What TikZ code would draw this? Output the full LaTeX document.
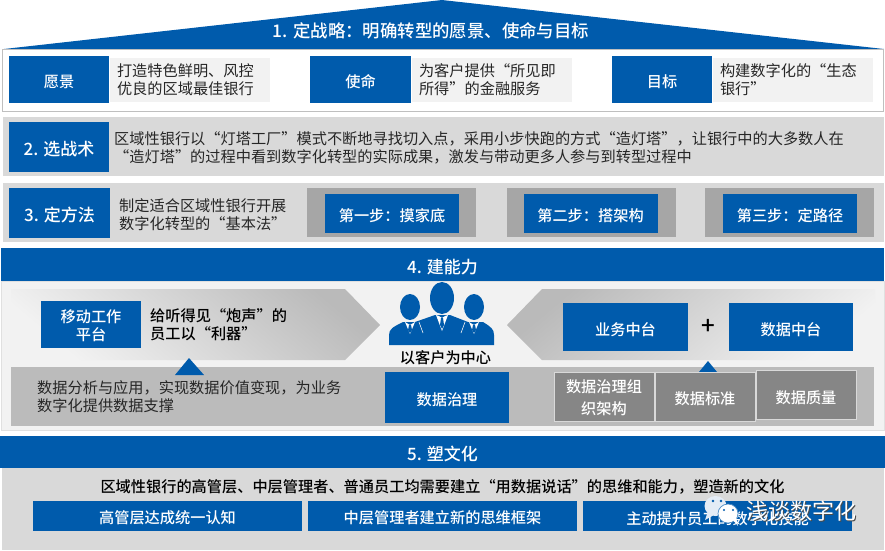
\documentclass[tikz,border=0pt]{standalone}
\usepackage{fontspec}
\setmainfont{Noto Sans CJK SC}[BoldFont={Noto Sans CJK SC Medium}]
\usetikzlibrary{shapes.geometric}
\definecolor{bankblue}{HTML}{005BAC}
\definecolor{rowgray}{HTML}{D9D9D9}
\definecolor{softgray}{HTML}{F2F2F2}
\definecolor{trackgray}{HTML}{A6A6A6}
\definecolor{bargray}{HTML}{BBBBBB}
\definecolor{cellgray}{HTML}{868686}
\definecolor{inkgray}{HTML}{262626}
\definecolor{bubblegray}{HTML}{E4ECF6}
\newcommand{\bodyfont}{\fontsize{15.2}{18}\selectfont}
\newcommand{\headfont}{\fontsize{17}{20}\selectfont}

\begin{document}
\begin{tikzpicture}[
    x=1pt, y=-1pt,
    bluebox/.style={fill=bankblue, text=white, inner sep=0pt, align=center,
                    font=\bodyfont\bfseries,
                    execute at begin node={\rule{0pt}{17.4pt}}},
    headbox/.style={bluebox, font=\headfont\bfseries,
                    execute at begin node={\rule{0pt}{19pt}}},
    softbox/.style={fill=softgray, draw=white, text=inkgray, text width=145pt,
                    inner xsep=8pt, inner ysep=0pt, minimum height=45pt,
                    align=left, font=\bodyfont},
    rowbox/.style={fill=rowgray, draw=white, inner sep=0pt},
    trackbox/.style={fill=trackgray, minimum width=169pt, minimum height=49pt,
                     inner sep=0pt},
    cellbox/.style={bluebox, fill=cellgray, draw=rowgray, line width=1pt},
    plain/.style={text=inkgray, inner sep=0pt, align=left, anchor=west,
                  font=\bodyfont},
    strong/.style={plain, text=black, font=\bodyfont\bfseries}
  ]
  \useasboundingbox (0, 0) rectangle (885, 550);

  % 1. Strategy
  \fill[bankblue] (4, 49) -- (442, 0) -- (884, 49) -- cycle;
  \node[rowbox, fill=white, draw=black!25, minimum width=881pt, minimum height=62pt]
    (stratrow) at (443, 80) {};
  \node[text=white, font=\fontsize{17.4}{20}\selectfont\bfseries, inner sep=0pt] (strattitle) at (431, 31)
    {1. 定战略：明确转型的愿景、使命与目标};

  \node[bluebox, minimum width=100pt, minimum height=47pt] (vision) at (59, 79.5) {愿景};
  \node[softbox] (visiontext) at (189.5, 79.5) {打造特色鲜明、风控\\优良的区域最佳银行};
  \node[bluebox, minimum width=101pt, minimum height=47pt] (mission) at (360.5, 79.5) {使命};
  \node[softbox] (missiontext) at (491.5, 79.5) {为客户提供“所见即\\所得”的金融服务};
  \node[bluebox, minimum width=100pt, minimum height=47pt] (goal) at (662, 79.5) {目标};
  \node[softbox] (goaltext) at (792.5, 79.5) {构建数字化的“生态\\银行”};

  % 2. Tactics
  \node[rowbox, minimum width=882pt, minimum height=60pt] (tacticrow) at (443, 146) {};
  \node[headbox, minimum width=100pt, minimum height=50pt] (tactic) at (59, 147) {2. 选战术};
  \node[plain] (tactictext) at (114, 148)
    {区域性银行以“灯塔工厂”模式不断地寻找切入点，采用小步快跑的方式“造灯塔”，让银行中的大多数人在\\
     “造灯塔”的过程中看到数字化转型的实际成果，激发与带动更多人参与到转型过程中};

  % 3. Method
  \node[rowbox, minimum width=882pt, minimum height=60pt] (methodrow) at (443, 212) {};
  \node[headbox, minimum width=101pt, minimum height=50pt] (method) at (59.5, 213) {3. 定方法};
  \node[plain] (methodtext) at (119, 215)
    {制定适合区域性银行开展\\数字化转型的“基本法”};
  \node[trackbox] (trackone) at (391.5, 212.5) {};
  \node[bluebox, minimum width=134pt, minimum height=39pt] (stepone) at (392, 213.5) {第一步：摸家底};
  \node[trackbox] (tracktwo) at (591, 212.5) {};
  \node[bluebox, minimum width=134pt, minimum height=39pt] (steptwo) at (590.5, 213.5) {第二步：搭架构};
  \node[trackbox] (trackthree) at (789.5, 212.5) {};
  \node[bluebox, minimum width=134pt, minimum height=39pt] (stepthree) at (790, 213.5) {第三步：定路径};

  % 4. Capability
  \node[rowbox, fill=softgray, draw=black!12, minimum width=883pt, minimum height=149pt]
    (abilityrow) at (442.5, 355.5) {};
  \node[headbox, minimum width=883pt, minimum height=33pt] (ability) at (442.5, 264.5) {4. 建能力};
  \shade[top color=black!27, bottom color=softgray, shading angle=-40]
    (11, 289) -- (345, 289) -- (380, 325) -- (345, 360) -- (11, 360) -- cycle;
  \shade[top color=black!27, bottom color=softgray, shading angle=40]
    (507, 325) -- (542, 289) -- (875, 289) -- (875, 360) -- (542, 360) -- cycle;
  \node[bluebox, minimum width=100pt, minimum height=47pt, text height=32.6pt, text depth=0pt] (mobile) at (91, 324.5) {移动工作\\平台};
  \node[strong] (mobiletext) at (150, 325) {给听得见“炮声”的\\员工以“利器”};
  \node[bluebox, minimum width=125pt, minimum height=48pt] (bizhub) at (625.5, 327) {业务中台};
  \node[bluebox, minimum width=124pt, minimum height=48pt] (datahub) at (791, 327) {数据中台};
  \node[text=black, inner sep=0pt, font=\fontsize{24}{24}\selectfont\bfseries] (plus) at (708, 327) {+};

  % People
  \fill[bankblue] (442, 298) ellipse (12 and 16);
  \fill[bankblue] (410, 307) ellipse (10 and 13);
  \fill[bankblue] (474, 307) ellipse (10 and 13);
  \fill[bankblue] (389, 345) -- (389, 335) .. controls (389, 329) and (393, 327) .. (403, 322)
    -- (415, 322) -- (435, 315) -- (450, 315) -- (468, 322) -- (483, 322)
    .. controls (491, 327) and (494, 329) .. (494, 335) -- (494, 345) -- cycle;
  \fill[white] (436, 315) -- (442, 331) -- (448, 315) -- (445, 316) -- (442, 318) -- (439, 316) -- cycle;
  \fill[bankblue] (441, 318) -- (443, 318) -- (444, 325) -- (442, 329) -- (440, 325) -- cycle;
  \fill[white] (405, 322) -- (410, 334) -- (415, 322) -- (410, 325) -- cycle;
  \fill[bankblue] (409, 325) -- (411, 325) -- (412, 330) -- (410, 333) -- (408, 330) -- cycle;
  \fill[white] (469, 322) -- (474, 334) -- (479, 322) -- (474, 325) -- cycle;
  \fill[bankblue] (473, 325) -- (475, 325) -- (476, 330) -- (474, 333) -- (472, 330) -- cycle;
  \draw[softgray, line width=0.6pt] (419, 322) -- (423, 333);
  \draw[softgray, line width=0.6pt] (465, 322) -- (461, 333);
  \node[strong, anchor=center] (customer) at (445.5, 358) {以客户为中心};

  % Data bar
  \node[rowbox, fill=bargray, draw=none, minimum width=863pt, minimum height=59pt]
    (databar) at (442.5, 396.5) {};
  \fill[bankblue] (175, 375) -- (189, 358) -- (204, 375) -- cycle;
  \fill[bankblue] (699, 372) -- (708, 361) -- (717, 372) -- cycle;
  \node[plain] (datatext) at (37, 397)
    {数据分析与应用，实现数据价值变现，为业务\\数字化提供数据支撑};
  \node[bluebox, minimum width=124pt, minimum height=51pt] (governance) at (447, 397.5) {数据治理};
  \node[cellbox, minimum width=100pt, minimum height=49pt, text height=36pt, text depth=0pt] (orgcell) at (604, 396.5) {数据治理组\\[4pt]织架构};
  \node[cellbox, minimum width=100pt, minimum height=49pt] (stdcell) at (705, 396.5) {数据标准};
  \node[cellbox, minimum width=100pt, minimum height=49pt] (qualcell) at (806, 395) {数据质量};

  % 5. Culture
  \node[rowbox, draw=none, minimum width=882pt, minimum height=82pt] (culturerow) at (443, 509) {};
  \node[headbox, minimum width=885pt, minimum height=32pt] (culture) at (442.5, 452) {5. 塑文化};
  \node[strong, anchor=center] (culturetext) at (442.5, 487)
    {区域性银行的高管层、中层管理者、普通员工均需要建立“用数据说话”的思维和能力，塑造新的文化};
  \node[bluebox, minimum width=269pt, minimum height=30pt] (topmgmt) at (167.5, 516) {高管层达成统一认知};
  \node[bluebox, minimum width=269pt, minimum height=30pt] (midmgmt) at (442.5, 516) {中层管理者建立新的思维框架};
  \node[bluebox, minimum width=269pt, minimum height=30pt] (staff) at (717.5, 516) {主动提升员工的数字化技能};

  % Watermark
  \fill[bubblegray] (715.5, 506) ellipse (11 and 10);
  \fill[bubblegray] (708, 511) -- (705, 520) -- (714, 515) -- cycle;
  \fill[white, draw=bankblue!70, line width=0.7pt] (728, 513.5) ellipse (10 and 9.5);
  \fill[white] (733, 520) -- (738, 526) -- (736, 517) -- cycle;
  \fill[bankblue] (713, 501) circle (1.3);
  \fill[bankblue] (721, 501) circle (1.3);
  \fill[bankblue] (724, 510) circle (1.2);
  \fill[bankblue] (733, 510) circle (1.2);
  \node[text=black!70, inner sep=0pt, font=\fontsize{22}{22}\selectfont] (markshadow) at (802.5, 512) {浅谈数字化};
  \node[text=white, inner sep=0pt, font=\fontsize{22}{22}\selectfont] (mark) at (801.5, 511) {浅谈数字化};
\end{tikzpicture}
\end{document}
